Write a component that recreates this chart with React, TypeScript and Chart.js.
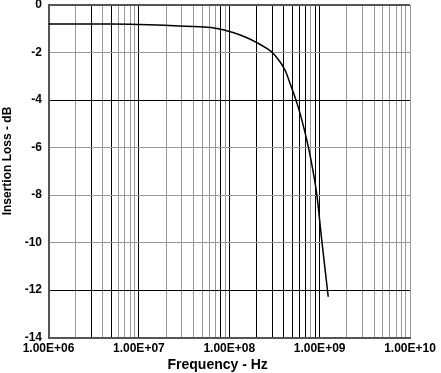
import React, { useEffect, useRef } from "react";
import { Chart, registerables } from "chart.js";

Chart.register(...registerables);

// Frequency (Hz) and insertion loss (dB)
const freqHz = [
  1e6, 3e6, 8e6, 1.3e7, 2.8e7, 4.7e7, 7.3e7, 1.1e8, 1.55e8, 2.1e8, 2.6e8, 3.07e8, 3.64e8,
  4.14e8, 4.5e8, 4.94e8, 5.47e8, 6.06e8, 6.7e8, 7.48e8, 8.32e8, 9.27e8, 1.052e9, 1.245e9,
];
const lossDb = [
  -0.8, -0.8, -0.81, -0.83, -0.88, -0.92, -0.99, -1.16, -1.37, -1.62, -1.83, -2.04, -2.39,
  -2.74, -3.09, -3.52, -4.0, -4.55, -5.18, -5.95, -6.85, -7.93, -9.85, -12.28,
];

const xDecades = [1e6, 1e7, 1e8, 1e9, 1e10];
const xTickLabels = ["1.00E+06", "1.00E+07", "1.00E+08", "1.00E+09", "1.00E+10"];
const xMinorSteps = [2, 3, 4, 5, 6, 7, 8, 9];
const yTicks = [0, -2, -4, -6, -8, -10, -12, -14];
const yDarkLines = [-4, -12];
const xTitle = "Frequency - Hz";
const yTitle = "Insertion Loss - dB";

const FONT = "'Liberation Sans', Arial, Helvetica, sans-serif";

const axisTitlesPlugin = {
  id: "axisTitles",
  afterDraw(chart: any) {
    const { ctx, chartArea } = chart;
    ctx.save();
    ctx.fillStyle = "#000";
    ctx.textAlign = "center";
    ctx.textBaseline = "middle";
    ctx.font = `bold 14px ${FONT}`;
    ctx.fillText(xTitle, chartArea.left + (chartArea.right - chartArea.left) * 0.468, 365);
    ctx.font = `bold 12px ${FONT}`;
    ctx.translate(8, chartArea.top + (chartArea.bottom - chartArea.top) * 0.469);
    ctx.rotate(-Math.PI / 2);
    ctx.fillText(yTitle, 0, 0);
    ctx.restore();
  },
};

export default function App() {
  const canvasRef = useRef<HTMLCanvasElement | null>(null);

  useEffect(() => {
    document.body.style.margin = "0";
    const canvas = canvasRef.current;
    if (!canvas) return;

    const allXTicks: number[] = [];
    xDecades.forEach((d, i) => {
      allXTicks.push(d);
      if (i < xDecades.length - 1) xMinorSteps.forEach((m) => allXTicks.push(m * d));
    });

    const chart = new Chart(canvas, {
      type: "line",
      data: {
        datasets: [
          {
            data: freqHz.map((f, i) => ({ x: f, y: lossDb[i] })),
            borderColor: "#000",
            borderWidth: 1.5,
            pointRadius: 0,
            tension: 0.4,
            fill: false,
          },
        ],
      },
      options: {
        animation: false,
        responsive: false,
        devicePixelRatio: 1,
        layout: { padding: { left: 0, top: 5, right: 31, bottom: 0 } },
        plugins: { legend: { display: false }, tooltip: { enabled: false } },
        scales: {
          x: {
            type: "logarithmic",
            min: 1e6,
            max: 1e10,
            afterBuildTicks: (scale: any) => {
              scale.ticks = allXTicks.map((v) => ({ value: v, major: xDecades.includes(v) }));
            },
            afterFit: (scale: any) => {
              scale.height = 35.4;
              scale.paddingLeft = 0;
              scale.paddingRight = 0;
            },
            ticks: {
              autoSkip: false,
              maxRotation: 0,
              minRotation: 0,
              padding: 4,
              color: "#000",
              font: { family: FONT, size: 12, weight: "bold" },
              callback: (value: any) => {
                const i = xDecades.indexOf(Number(value));
                return i >= 0 ? xTickLabels[i] : "";
              },
            },
            grid: {
              drawTicks: false,
              lineWidth: 1,
              color: (ctx: any) => {
                const v = ctx.tick ? ctx.tick.value : 0;
                if (xDecades.slice(0, 4).includes(v)) return "#000";
                const px = ctx.scale.getPixelForValue(v);
                const frac = px - Math.floor(px);
                return frac > 0.3 && frac < 0.7 ? "#000" : "#999";
              },
            },
            border: { display: true, color: "#555", width: 2 },
            title: { display: false },
          },
          y: {
            type: "linear",
            min: -14,
            max: 0,
            afterBuildTicks: (scale: any) => {
              scale.ticks = yTicks.map((v) => ({ value: v }));
            },
            afterFit: (scale: any) => {
              scale.width = 48.5;
              scale.paddingTop = 0;
              scale.paddingBottom = 0;
            },
            ticks: {
              padding: 6.5,
              color: "#000",
              font: { family: FONT, size: 12, weight: "bold" },
            },
            grid: {
              drawTicks: false,
              lineWidth: (ctx: any) => (ctx.tick && ctx.tick.value === 0 ? 2 : 1),
              color: (ctx: any) => {
                const v = ctx.tick ? ctx.tick.value : 0;
                if (v === 0) return "#555";
                return yDarkLines.includes(v) ? "#000" : "#999";
              },
            },
            border: { display: true, color: "#555", width: 2 },
            title: { display: false },
          },
        },
      },
      plugins: [axisTitlesPlugin],
    });

    return () => chart.destroy();
  }, []);

  return (
    <div style={{ width: 441, height: 373, background: "#fff" }}>
      <canvas ref={canvasRef} width={441} height={373} style={{ display: "block" }} />
    </div>
  );
}
